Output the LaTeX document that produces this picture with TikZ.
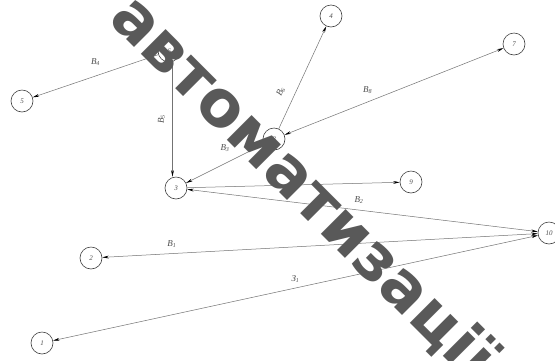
\documentclass[tikz,border=0pt]{standalone}
\usepackage{fontspec}
\setmainfont{Liberation Serif}
\newfontfamily\wmfont{DejaVu Sans}
\usetikzlibrary{arrows.meta}
\begin{document}
\begin{tikzpicture}[x=1pt,y=-1pt,
  vert/.style={circle,draw=black!75,line width=0.6pt,minimum size=22pt,inner sep=0pt,
    font=\itshape\fontsize{7}{7}\selectfont,text=black!70},
  arr/.style={draw=black!55,line width=0.5pt,-{Stealth[length=6.5pt,width=2.8pt,color=black]}},
  barr/.style={draw=black!55,line width=0.5pt,{Stealth[length=6.5pt,width=2.8pt,color=black]}-{Stealth[length=6.5pt,width=2.8pt,color=black]}},
  lbl/.style={font=\itshape\fontsize{9}{9}\selectfont,text=black!70,inner sep=1pt},
  wm/.style={font=\wmfont\bfseries\fontsize{64}{64}\selectfont,text=black!65,inner sep=0pt}]
\useasboundingbox[fill=white] (0,0) rectangle (555,360);

\node[vert] (n6) at (169,51) {6};
\node[vert] (n5) at (22,101) {5};
\node[vert] (n4) at (331,16) {4};
\node[vert] (n7) at (514,44) {7};
\node[vert] (n8) at (274,139) {8};
\node[vert] (n3) at (176,188) {3};
\node[vert] (n9) at (411,182) {9};
\node[vert] (n10) at (549,233) {10};
\node[vert] (n2) at (91,258) {2};
\node[vert] (n1) at (42,343) {1};

\draw[arr] (n6) -- node[lbl,pos=.5,yshift=14pt] {В\textsubscript{4}} (n5);
\draw[arr] (n6.-72) -- node[lbl,pos=.5,xshift=-11pt,rotate=90] {В\textsubscript{5}} (n6.-72 |- n3.north);
\draw[arr] (n8) -- node[lbl,pos=.36,xshift=-15pt,rotate=65] {В\textsubscript{6}} (n4);
\draw[barr] (n8) -- node[lbl,pos=.38,yshift=12pt] {В\textsubscript{8}} (n7);
\draw[arr] (n8) -- node[lbl,pos=.5,yshift=15pt] {В\textsubscript{3}} (n3);
\draw[arr] (n3) -- (n9);
\draw[barr] (n3) -- node[lbl,pos=.49,yshift=10pt] {В\textsubscript{2}} (n10);
\draw[barr] (n10) -- node[lbl,pos=.84,yshift=10pt] {В\textsubscript{1}} (n2);
\draw[barr] (n10) -- node[lbl,pos=.5,yshift=9pt] {З\textsubscript{1}} (n1);

\node[wm,rotate=-45,anchor=base west] (wm) at (107,20) {автоматизації};
\end{tikzpicture}
\end{document}
